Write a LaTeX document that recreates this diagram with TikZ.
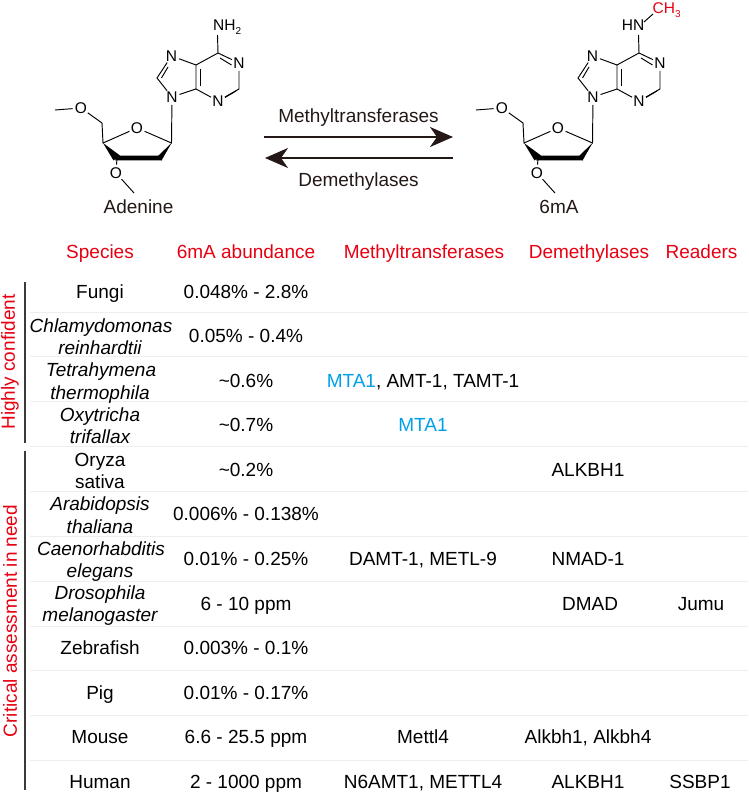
\documentclass[tikz,border=0pt]{standalone}
\usepackage{fontspec}
\setmainfont{Liberation Sans}
\usetikzlibrary{arrows.meta}
\definecolor{inkc}{HTML}{231815}
\definecolor{redc}{HTML}{E60012}
\definecolor{bluec}{HTML}{00A0E9}
\definecolor{sepc}{HTML}{EEEEEE}
\definecolor{barc}{HTML}{3E3A39}
\tikzset{
  txt/.style={anchor=base,inner sep=0pt,font=\fontsize{19}{22}\selectfont,text=black},
  sptxt/.style={txt,font=\fontsize{19}{22}\selectfont\itshape},
  head/.style={txt,text=redc},
  side/.style={anchor=center,inner sep=0pt,rotate=90,font=\fontsize{19}{22}\selectfont,text=redc},
  mta/.style={txt,text=bluec},
  atom/.style={inner sep=0pt,circle,font=\fontsize{15.5}{18}\selectfont,text=black},
  lbl/.style={inner sep=0pt,font=\fontsize{15.5}{18}\selectfont,text=black},
  bond/.style={draw=black,line width=0.95pt,line join=miter},
  rxn/.style={draw=inkc,line width=2pt,-{Stealth[length=23pt,width=20pt,inset=7pt,fill=inkc]}},
  sepl/.style={draw=sepc,line width=1pt},
  bar/.style={draw=barc,line width=1.2pt},
  caption/.style={anchor=base,inner sep=0pt,font=\fontsize{19}{22}\selectfont,text=inkc}
}
\newcommand{\ribose}[2]{%
\begin{scope}[shift={(#2,0)}]
  \node[atom] (#1O5) at (81,108) {O};
  \node[atom] (#1O4) at (137,128) {O};
  \node[atom] (#1O3) at (116,173) {O};
  \node[atom] (#1N9) at (172,97) {N};
  \node[atom] (#1N7) at (171.5,56) {N};
  \node[atom] (#1N1) at (239,63) {N};
  \node[atom] (#1N3) at (218,101) {N};
  \coordinate (#1Me5) at (55,110);
  \coordinate (#1C5p) at (102,123);
  \coordinate (#1C4p) at (103,143);
  \coordinate (#1C3p) at (117,158);
  \coordinate (#1C2p) at (160,158);
  \coordinate (#1C1p) at (171.5,143);
  \coordinate (#1Me3) at (134,193);
  \coordinate (#1C8) at (157,78);
  \coordinate (#1C5) at (196,65);
  \coordinate (#1C4) at (196,89);
  \coordinate (#1C6) at (218,53);
  \coordinate (#1C2) at (239,89);
  \coordinate (#1i1) at (200,69);
  \coordinate (#1i2) at (200,86);
  \coordinate (#1i3) at (220,58);
  \coordinate (#1i4) at (231.5,65);
  \coordinate (#1i5) at (225,97.5);
  \coordinate (#1i6) at (236,91);
  \coordinate (#1i7) at (161.5,78);
  \coordinate (#1i8) at (168,67);
  \draw[bond] (#1Me5) -- (#1O5);
  \draw[bond] (#1O5) -- (#1C5p) -- (#1C4p) -- (#1O4);
  \draw[bond] (#1O4) -- (#1C1p) -- (#1N9);
  \fill[black] (103,143) -- (113.5,160.5) -- (120,155.5) -- cycle;
  \fill[black] (117,155.7) -- (160,155.7) -- (162,160.4) -- (115,160.4) -- cycle;
  \fill[black] (171.5,143) -- (158,156) -- (161.5,160.5) -- cycle;
  \draw[bond] (#1C3p) -- (#1O3);
  \draw[bond] (#1O3) -- (#1Me3);
  \draw[bond] (#1N9) -- (#1C8) -- (#1N7);
  \draw[bond] (#1N7) -- (#1C5) -- (#1C4) -- (#1N9);
  \draw[bond] (#1C5) -- (#1C6) -- (#1N1);
  \draw[bond] (#1N1) -- (#1C2) -- (#1N3);
  \draw[bond] (#1N3) -- (#1C4);
  \draw[bond] (#1i1) -- (#1i2);
  \draw[bond] (#1i3) -- (#1i4);
  \draw[bond] (#1i5) -- (#1i6);
  \draw[bond] (#1i7) -- (#1i8);
\end{scope}}
\begin{document}
\begin{tikzpicture}[x=1pt,y=-1pt]
\useasboundingbox (0,0) rectangle (748,794);
% molecules
\ribose{a}{0}
\ribose{b}{421}
\node[lbl,anchor=base west] (aNH) at (213,31) {NH\raisebox{-3.5pt}{\fontsize{10}{10}\selectfont 2}};
\coordinate (aNb) at (217.5,35);
\draw[bond] (aNb) -- (aC6);
\node[lbl,anchor=base] (bHN) at (633,31) {HN};
\coordinate (bNb) at (638.5,35);
\draw[bond] (bNb) -- (bC6);
\node[lbl,anchor=base west,text=redc] (bCH) at (652.5,14) {CH\raisebox{-3.5pt}{\fontsize{10}{10}\selectfont 3}};
\coordinate (bHb) at (644,22);
\coordinate (bMe) at (653,14);
\draw[bond] (bHb) -- (bMe);
\node[caption] (adn) at (138.5,214) {Adenine};
\node[caption] (sixma) at (559,214) {6mA};
% reaction arrows
\coordinate (r1) at (264,137);
\coordinate (r2) at (453,137);
\coordinate (r3) at (453,158);
\coordinate (r4) at (265,158);
\draw[rxn] (r1) -- (r2);
\draw[rxn] (r3) -- (r4);
\node[caption] (mtl) at (358.5,123) {Methyltransferases};
\node[caption] (dml) at (358.5,187) {Demethylases};
% header
\node[head] (h1) at (100,258) {Species};
\node[head] (h2) at (246,258) {6mA abundance};
\node[head] (h3) at (424,258) {Methyltransferases};
\node[head] (h4) at (589,258) {Demethylases};
\node[head] (h5) at (701.5,258) {Readers};
% separators
\foreach \yy/\nm in {312/a,356.5/b,401.5/c,446.5/d,491/e,536/f,581/g,626/h,670.5/i,715/j,760/k}{
  \coordinate (sl\nm) at (30,\yy);
  \coordinate (sr\nm) at (748,\yy);
  \draw[sepl] (sl\nm) -- (sr\nm);
}
% side bars
\coordinate (b1) at (25,282);
\coordinate (b2) at (25,443);
\coordinate (b3) at (25,451);
\coordinate (b4) at (25,790);
\draw[bar] (b1) -- (b2);
\draw[bar] (b3) -- (b4);
\node[side] (s1) at (10,362) {Highly confident};
\node[side] (s2) at (10,621) {Critical assessment in need};
% species
\node[txt] (sp1) at (100,298) {Fungi};
\node[sptxt] (sp2a) at (101,332) {Chlamydomonas};
\node[sptxt] (sp2b) at (100,354) {reinhardtii};
\node[sptxt] (sp3a) at (101,376) {Tetrahymena};
\node[sptxt] (sp3b) at (100,399) {thermophila};
\node[sptxt] (sp4a) at (100,421) {Oxytricha};
\node[sptxt] (sp4b) at (100,443) {trifallax};
\node[txt] (sp5a) at (100,466) {Oryza};
\node[txt] (sp5b) at (100,488) {sativa};
\node[sptxt] (sp6a) at (100,510) {Arabidopsis};
\node[sptxt] (sp6b) at (100,533) {thaliana};
\node[sptxt] (sp7a) at (101,555) {Caenorhabditis};
\node[sptxt] (sp7b) at (100,577) {elegans};
\node[sptxt] (sp8a) at (100,599) {Drosophila};
\node[sptxt] (sp8b) at (100,621) {melanogaster};
\node[txt] (sp9) at (100,654) {Zebrafish};
\node[txt] (sp10) at (100,699) {Pig};
\node[txt] (sp11) at (100,743) {Mouse};
\node[txt] (sp12) at (100,788) {Human};
% abundance
\node[txt] (ab1) at (246,298) {0.048\% - 2.8\%};
\node[txt] (ab2) at (246,342) {0.05\% - 0.4\%};
\node[txt] (ab3) at (246,387) {\textasciitilde 0.6\%};
\node[txt] (ab4) at (246,431) {\textasciitilde 0.7\%};
\node[txt] (ab5) at (246,476) {\textasciitilde 0.2\%};
\node[txt] (ab6) at (246,520) {0.006\% - 0.138\%};
\node[txt] (ab7) at (246,565) {0.01\% - 0.25\%};
\node[txt] (ab8) at (246,610) {6 - 10 ppm};
\node[txt] (ab9) at (246,654) {0.003\% - 0.1\%};
\node[txt] (ab10) at (246,699) {0.01\% - 0.17\%};
\node[txt] (ab11) at (246,743) {6.6 - 25.5 ppm};
\node[txt] (ab12) at (246,788) {2 - 1000 ppm};
% methyltransferases
\node[txt] (mt3) at (423,387) {\textcolor{bluec}{MTA1}, AMT-1, TAMT-1};
\node[mta] (mt4) at (423,431) {MTA1};
\node[txt] (mt7) at (423,565) {DAMT-1, METL-9};
\node[txt] (mt11) at (423,743) {Mettl4};
\node[txt] (mt12) at (423,788) {N6AMT1, METTL4};
% demethylases
\node[txt] (dm5) at (588,476) {ALKBH1};
\node[txt] (dm7) at (588,565) {NMAD-1};
\node[txt] (dm8) at (590,610) {DMAD};
\node[txt] (dm11) at (588,743) {Alkbh1, Alkbh4};
\node[txt] (dm12) at (588,788) {ALKBH1};
% readers
\node[txt] (rd8) at (701,610) {Jumu};
\node[txt] (rd12) at (700,788) {SSBP1};
\end{tikzpicture}
\end{document}
